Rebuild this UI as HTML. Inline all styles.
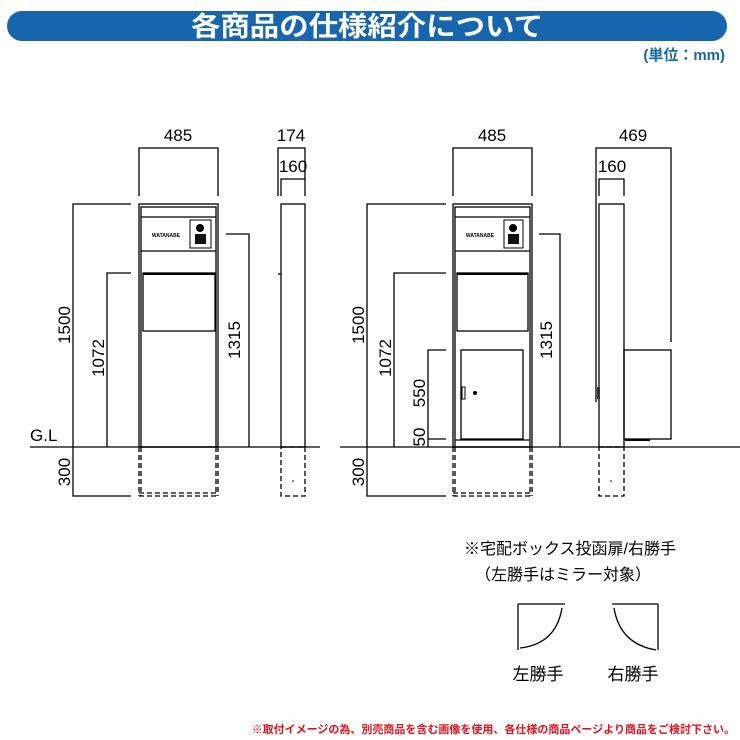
<!DOCTYPE html>
<html><head><meta charset="utf-8"><style>
html,body{margin:0;padding:0;background:#fff;width:740px;height:740px;overflow:hidden}
svg{display:block}
.d{font-family:"Liberation Sans","DejaVu Sans Condensed",sans-serif;font-size:17px;fill:#000}
.j{font-family:"Liberation Sans","Noto Sans CJK JP",sans-serif;fill:#000}
</style></head><body>
<svg width="740" height="740" viewBox="0 0 740 740" xmlns="http://www.w3.org/2000/svg">
<rect x="7" y="11" width="720" height="30" rx="15" fill="#1766ad"/>
<text x="367" y="36" text-anchor="middle" class="j" style="font-size:27px;font-weight:bold;fill:#fff" textLength="352" lengthAdjust="spacingAndGlyphs">各商品の仕様紹介について</text>
<text x="725" y="60" text-anchor="end" class="j" style="font-size:15px;font-weight:bold;fill:#1766ad">(単位：mm)</text>

<g stroke="#000" stroke-width="1.3" fill="none">
<polyline points="139,196 139,148 218,148 218,196"/>
<rect x="139" y="204" width="79" height="243"/>
<rect x="141" y="207" width="75" height="240"/>
<line x1="141" y1="217" x2="216" y2="217"/>
<line x1="141" y1="251" x2="216" y2="251"/>
<rect x="190" y="220" width="21" height="28" stroke-width="1"/>
<rect x="143" y="273" width="72" height="58"/>
<line x1="143" y1="274" x2="215" y2="274" stroke-width="2"/>
<polyline points="131,204 73,204 73,496 131,496"/>
<polyline points="131,273 107,273 107,447"/>
<polyline points="226,234 249,234 249,447"/>
<line x1="30" y1="447" x2="320" y2="447"/>
<g stroke-dasharray="5,3">
<line x1="139" y1="447" x2="139" y2="496"/><line x1="141" y1="447" x2="141" y2="496"/>
<line x1="216" y1="447" x2="216" y2="496"/><line x1="218" y1="447" x2="218" y2="496"/>
<line x1="139" y1="493" x2="218" y2="493"/><line x1="139" y1="496" x2="218" y2="496"/>
<rect x="281" y="447" width="24" height="49"/>
</g>
<polyline points="278,196 278,148 305,148 305,196"/>
<polyline points="281,196 281,179 305,179"/>
<rect x="281" y="204" width="24" height="243"/>
<line x1="278" y1="274" x2="281" y2="274"/>

<polyline points="453,196 453,148 532,148 532,196"/>
<rect x="453" y="204" width="79" height="243"/>
<rect x="455" y="207" width="75" height="240"/>
<line x1="455" y1="217" x2="530" y2="217"/>
<line x1="455" y1="251" x2="530" y2="251"/>
<rect x="504" y="220" width="19" height="28" stroke-width="1"/>
<rect x="457" y="273" width="71" height="58"/>
<line x1="457" y1="274" x2="528" y2="274" stroke-width="2"/>
<rect x="461" y="350" width="62" height="89"/>
<line x1="455" y1="440" x2="530" y2="440"/>
<rect x="462" y="387" width="3" height="12" stroke-width="1"/>
<polyline points="446,204 367,204 367,496 446,496"/>
<polyline points="446,273 394,273 394,447"/>
<polyline points="446,350 428,350 428,447"/>
<line x1="428" y1="439" x2="446" y2="439"/>
<polyline points="539,234 560,234 560,447"/>
<line x1="340" y1="447" x2="740" y2="447"/>
<g stroke-dasharray="5,3">
<line x1="453" y1="447" x2="453" y2="496"/><line x1="455" y1="447" x2="455" y2="496"/>
<line x1="530" y1="447" x2="530" y2="496"/><line x1="532" y1="447" x2="532" y2="496"/>
<line x1="453" y1="493" x2="532" y2="493"/><line x1="453" y1="496" x2="532" y2="496"/>
<rect x="599" y="447" width="25" height="49"/>
</g>
<polyline points="596,402 596,148 671,148 671,342"/>
<polyline points="599,196 599,179 624,179 624,196"/>
<rect x="599" y="204" width="25" height="243"/>
<rect x="624" y="350" width="47" height="89"/>
<line x1="625" y1="440" x2="650" y2="440" stroke-width="2"/>

<line x1="518" y1="604" x2="518" y2="650"/>
<line x1="518" y1="604" x2="565" y2="604"/>
<path d="M562,608 Q556,644 520,648"/>
<line x1="658" y1="604" x2="658" y2="650"/>
<line x1="612" y1="604" x2="658" y2="604"/>
<path d="M614,608 Q620,644 656,650"/>
</g>
<circle cx="200" cy="228" r="4" fill="#000"/>
<rect x="195" y="234" width="11" height="10" fill="#111"/>
<circle cx="513" cy="228" r="4" fill="#000"/>
<rect x="508" y="234" width="11" height="10" fill="#111"/>
<circle cx="293" cy="481" r="0.8" fill="#000"/>
<circle cx="611" cy="481" r="0.8" fill="#000"/>
<circle cx="475" cy="393" r="2" fill="#000"/>
<rect x="597" y="387" width="3" height="12" fill="#333"/>

<g class="d">
<text x="178" y="141" text-anchor="middle">485</text>
<text x="291" y="141" text-anchor="middle">174</text>
<text x="293" y="172" text-anchor="middle">160</text>
<text x="30" y="441">G.L</text>
<text transform="translate(70,325) rotate(-90)" text-anchor="middle">1500</text>
<text transform="translate(104,358) rotate(-90)" text-anchor="middle">1072</text>
<text transform="translate(240,340) rotate(-90)" text-anchor="middle">1315</text>
<text transform="translate(70,472) rotate(-90)" text-anchor="middle">300</text>
<text x="492" y="141" text-anchor="middle">485</text>
<text x="633" y="141" text-anchor="middle">469</text>
<text x="612" y="172" text-anchor="middle">160</text>
<text transform="translate(364,325) rotate(-90)" text-anchor="middle">1500</text>
<text transform="translate(391,358) rotate(-90)" text-anchor="middle">1072</text>
<text transform="translate(425,393) rotate(-90)" text-anchor="middle">550</text>
<text transform="translate(425,437) rotate(-90)" text-anchor="middle">50</text>
<text transform="translate(552,340) rotate(-90)" text-anchor="middle">1315</text>
<text transform="translate(364,472) rotate(-90)" text-anchor="middle">300</text>
</g>
<text x="166" y="237" text-anchor="middle" class="j" style="font-size:5px;font-weight:bold">WATANABE</text>
<text x="480" y="237" text-anchor="middle" class="j" style="font-size:5px;font-weight:bold">WATANABE</text>
<text x="464" y="554" class="j" style="font-size:16px">※宅配ボックス投函扉/右勝手</text>
<text x="475" y="580" class="j" style="font-size:16px">（左勝手はミラー対象）</text>
<text x="538" y="680" text-anchor="middle" class="j" style="font-size:17px">左勝手</text>
<text x="633" y="680" text-anchor="middle" class="j" style="font-size:17px">右勝手</text>
<text x="735" y="733" text-anchor="end" class="j" style="font-size:11px;font-weight:bold;fill:#e0141e">※取付イメージの為、別売商品を含む画像を使用、各仕様の商品ページより商品をご検討下さい。</text>
</svg>
</body></html>
